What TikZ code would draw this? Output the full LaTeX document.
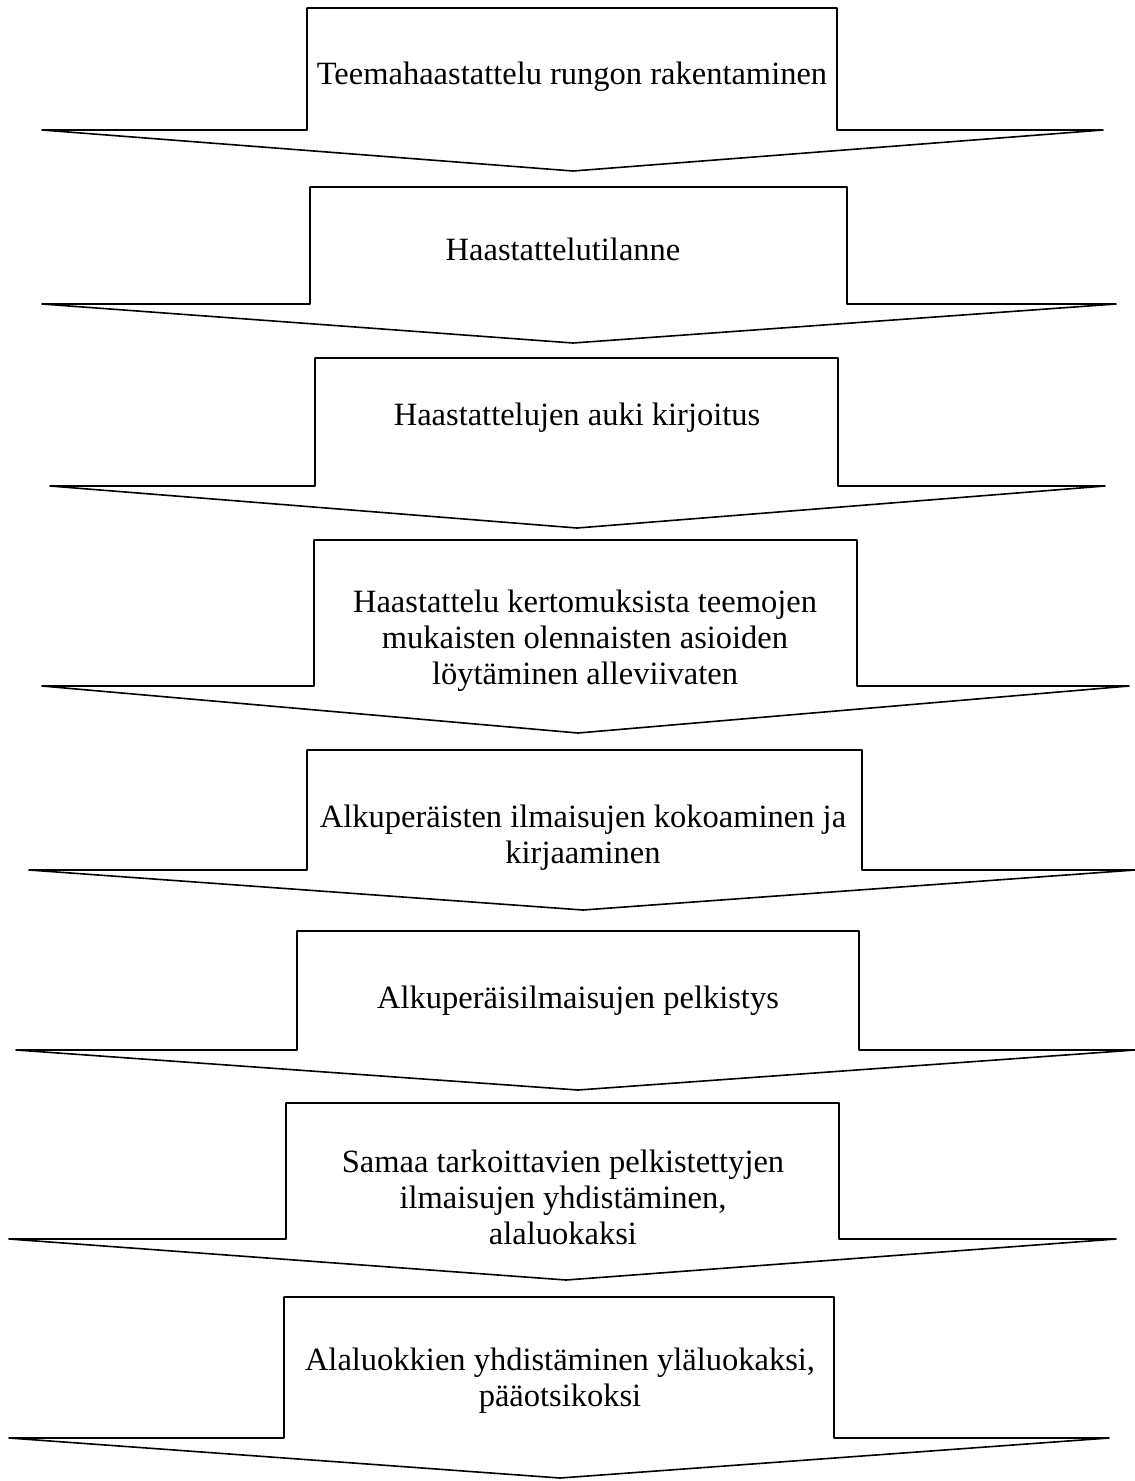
\documentclass[tikz,border=0pt]{standalone}
\usepackage{fontspec}
\setmainfont{Liberation Serif}
\tikzset{
  arrowline/.style={draw=black, line width=1.6pt, line join=round},
  steptext/.style={align=center, font=\fontsize{32.5}{36}\selectfont, inner sep=0pt}
}
% #1 top, #2 box left, #3 box right, #4 base, #5 wing left, #6 wing right, #7 tip x, #8 tip y
\newcommand{\flowarrow}[8]{%
  \draw[arrowline] (#2,#4) -- (#2,#1) -- (#3,#1) -- (#3,#4) -- (#6,#4) -- (#7,#8) -- (#5,#4) -- cycle;%
}
\begin{document}
\begin{tikzpicture}[x=1pt,y=-1pt]
\useasboundingbox (0,0) rectangle (1135,1481);
\flowarrow{8}{307}{837}{130}{42}{1103}{573}{171}
\node[steptext] (t1) at (572,77) {Teemahaastattelu rungon rakentaminen};
\flowarrow{187}{310}{847}{304}{42}{1116}{573}{343}
\node[steptext] (t2) at (563,249) {Haastattelutilanne};
\flowarrow{358}{315}{838}{486}{50}{1105}{577}{528}
\node[steptext] (t3) at (577,418) {Haastattelujen auki kirjoitus};
\flowarrow{540}{314}{857}{686}{42}{1129}{578}{733}
\node[steptext] (t4) at (585,641) {Haastattelu kertomuksista teemojen\\mukaisten olennaisten asioiden\\löytäminen alleviivaten};
\flowarrow{750}{307}{862}{870}{29}{1135}{583}{910}
\node[steptext] (t5) at (583,838) {Alkuperäisten ilmaisujen kokoaminen ja\\kirjaaminen};
\flowarrow{931}{297}{859}{1050}{16}{1135}{578}{1090}
\node[steptext] (t6) at (578,1001) {Alkuperäisilmaisujen pelkistys};
\flowarrow{1103}{286}{839}{1239}{9}{1116}{566}{1280}
\node[steptext] (t7) at (563,1197) {Samaa tarkoittavien pelkistettyjen\\ilmaisujen yhdistäminen,\\alaluokaksi};
\flowarrow{1297}{284}{834}{1438}{9}{1109}{560}{1478}
\node[steptext] (t8) at (560,1381) {Alaluokkien yhdistäminen yläluokaksi,\\pääotsikoksi};
\end{tikzpicture}
\end{document}
